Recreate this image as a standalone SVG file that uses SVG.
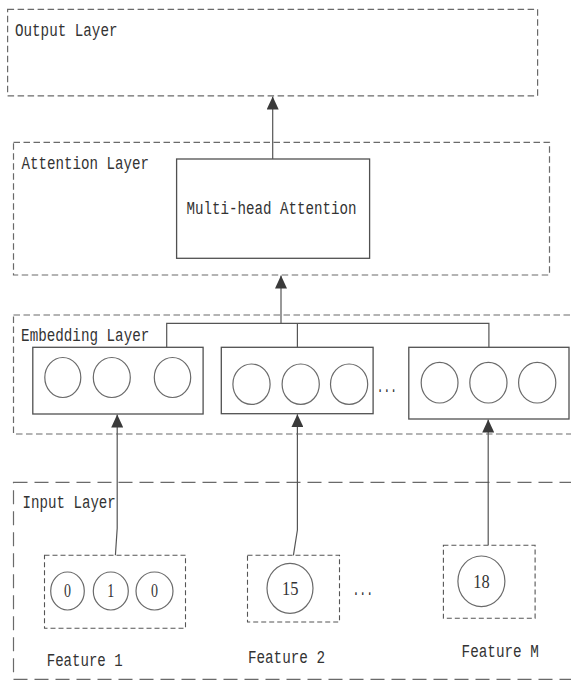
<svg xmlns="http://www.w3.org/2000/svg" width="571" height="681" viewBox="0 0 571 681">
<defs>
<style>
.layer{fill:none;stroke:#6a6a6a;stroke-width:1.2;stroke-dasharray:6.5 3.5}
.inlayer{fill:none;stroke:#6a6a6a;stroke-width:1.2;stroke-dasharray:14 7}
.feat{fill:none;stroke:#555;stroke-width:1.1;stroke-dasharray:5 3}
.box{fill:#fff;stroke:#505050;stroke-width:1.3}
.cir{fill:none;stroke:#6a6a6a;stroke-width:1.2}
.lbl{font-family:"Liberation Mono","DejaVu Sans Mono",monospace;font-size:19px;fill:#333}
.num{font-family:"Liberation Serif","DejaVu Serif",serif;font-size:18px;fill:#333}
.con{fill:none;stroke:#555;stroke-width:1.2}
</style>
<marker id="arr" viewBox="0 0 13 12" refX="13" refY="6" markerWidth="13" markerHeight="12" markerUnits="userSpaceOnUse" orient="auto">
<path d="M0,0 L13,6 L0,12 Z" fill="#3a3a3a"/>
</marker>
</defs>
<rect width="571" height="681" fill="#fff"/>

<g id="output-layer">
<rect class="layer" x="7.6" y="9.3" width="530" height="86.5"/>
<text class="lbl" x="15" y="36" textLength="102.5" lengthAdjust="spacingAndGlyphs">Output Layer</text>
</g>

<g id="attention-layer">
<rect class="layer" x="13.5" y="142.3" width="536" height="132.7"/>
<text class="lbl" x="21.5" y="168.5" textLength="127.5" lengthAdjust="spacingAndGlyphs">Attention Layer</text>
</g>

<g id="multi-head-attention">
<rect class="box" x="176.6" y="159" width="193" height="99.3"/>
<text class="lbl" x="186.6" y="214.3" textLength="170" lengthAdjust="spacingAndGlyphs">Multi-head Attention</text>
</g>

<g id="embedding-layer">
<rect class="layer" x="13.5" y="315" width="570" height="119"/>
<text class="lbl" x="21.1" y="341" textLength="128.2" lengthAdjust="spacingAndGlyphs">Embedding Layer</text>
</g>

<g id="embedding-1">
<rect class="box" x="32.8" y="347.3" width="170.3" height="66.7"/>
<ellipse class="cir" cx="62.8" cy="377.5" rx="18" ry="20"/>
<ellipse class="cir" cx="111.8" cy="377.5" rx="18.5" ry="20"/>
<ellipse class="cir" cx="172.5" cy="377.5" rx="18.2" ry="20"/>
</g>

<g id="embedding-2">
<rect class="box" x="221.3" y="347.3" width="151.8" height="66.4"/>
<ellipse class="cir" cx="251.5" cy="384.2" rx="18.6" ry="20.2"/>
<ellipse class="cir" cx="300.7" cy="384.2" rx="18.6" ry="20.2"/>
<ellipse class="cir" cx="349.1" cy="384.2" rx="18.6" ry="20.2"/>
</g>

<g id="embedding-dots">
<text class="lbl" x="376.8" y="392" textLength="20" lengthAdjust="spacingAndGlyphs">...</text>
</g>

<g id="embedding-m">
<rect class="box" x="408.8" y="347.3" width="160.2" height="71.7"/>
<ellipse class="cir" cx="439.6" cy="382.7" rx="18.4" ry="20.3"/>
<ellipse class="cir" cx="488.4" cy="382.7" rx="18.6" ry="20.3"/>
<ellipse class="cir" cx="537.2" cy="382.7" rx="18.6" ry="20.3"/>
</g>

<g id="input-layer">
<rect class="inlayer" x="13.5" y="482.3" width="570" height="197"/>
<text class="lbl" x="22.6" y="508" textLength="93.2" lengthAdjust="spacingAndGlyphs">Input Layer</text>
</g>

<g id="feature-1">
<rect class="feat" x="44.5" y="555.3" width="141" height="73"/>
<ellipse class="cir" cx="67.5" cy="591" rx="16.8" ry="19"/>
<ellipse class="cir" cx="110.8" cy="591" rx="17.5" ry="19"/>
<ellipse class="cir" cx="154.5" cy="591" rx="18.5" ry="19"/>
<text class="num" x="64" y="596.8" textLength="7" lengthAdjust="spacingAndGlyphs">0</text>
<text class="num" x="107.3" y="596.8" textLength="7" lengthAdjust="spacingAndGlyphs">1</text>
<text class="num" x="151" y="596.8" textLength="7" lengthAdjust="spacingAndGlyphs">0</text>
<text class="lbl" x="46.7" y="666" textLength="76" lengthAdjust="spacingAndGlyphs">Feature 1</text>
</g>

<g id="feature-2">
<rect class="feat" x="247.5" y="555.3" width="92" height="66.7"/>
<ellipse class="cir" cx="290" cy="588.3" rx="23" ry="25"/>
<text class="num" x="282" y="594.8" textLength="16.4" lengthAdjust="spacingAndGlyphs">15</text>
<text class="lbl" x="247.9" y="663" textLength="77.2" lengthAdjust="spacingAndGlyphs">Feature 2</text>
</g>

<g id="feature-dots">
<text class="lbl" x="352.4" y="595" textLength="20.7" lengthAdjust="spacingAndGlyphs">...</text>
</g>

<g id="feature-m">
<rect class="feat" x="443.4" y="545.3" width="91.7" height="73"/>
<ellipse class="cir" cx="481.4" cy="581.3" rx="23.5" ry="25.3"/>
<text class="num" x="473.2" y="587.8" textLength="16.4" lengthAdjust="spacingAndGlyphs">18</text>
<text class="lbl" x="461.6" y="657" textLength="77.2" lengthAdjust="spacingAndGlyphs">Feature M</text>
</g>

<g id="connectors">
<line class="con" x1="272.7" y1="159" x2="272.7" y2="96.5" marker-end="url(#arr)"/>
<polyline class="con" points="166.7,347.3 166.7,323.3 488.9,323.3 488.9,347.3"/>
<line class="con" x1="297.4" y1="323.3" x2="297.4" y2="347.3"/>
<line class="con" x1="281" y1="323.3" x2="281" y2="275.5" marker-end="url(#arr)"/>
<polyline class="con" points="115.4,555.3 117.2,528.3 117.2,414.5" marker-end="url(#arr)"/>
<polyline class="con" points="293.4,555.3 297.4,530 297.4,414.2" marker-end="url(#arr)"/>
<line class="con" x1="488.2" y1="545.3" x2="488.2" y2="419.5" marker-end="url(#arr)"/>
</g>
</svg>
